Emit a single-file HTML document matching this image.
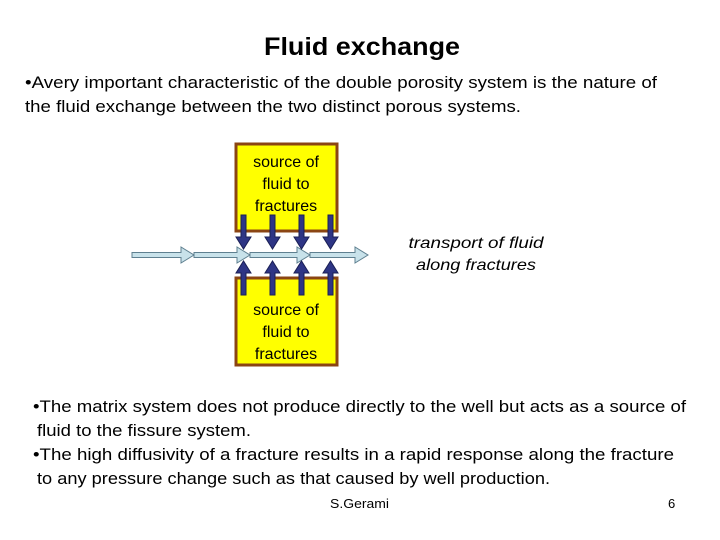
<!DOCTYPE html>
<html><head><meta charset="utf-8"><style>
html,body{margin:0;padding:0;background:#fff;}
svg{display:block;}
text{font-family:"Liberation Sans",sans-serif;fill:#000;}
</style></head><body>
<svg width="720" height="540" viewBox="0 0 720 540" xmlns="http://www.w3.org/2000/svg">
<text x="362" y="55" text-anchor="middle" font-size="25" font-weight="bold" textLength="196" lengthAdjust="spacingAndGlyphs">Fluid exchange</text>
<text x="25" y="88" font-size="17" textLength="632" lengthAdjust="spacingAndGlyphs">•Avery important characteristic of the double porosity system is the nature of</text>
<text x="25" y="112" font-size="17" textLength="496" lengthAdjust="spacingAndGlyphs">the fluid exchange between the two distinct porous systems.</text>

<rect x="236" y="144" width="101" height="87" fill="#ffff00" stroke="#8b4513" stroke-width="3"/>
<rect x="236" y="278" width="101" height="87" fill="#ffff00" stroke="#8b4513" stroke-width="3"/>
<g font-size="16" text-anchor="middle">
<text x="286" y="167">source of</text><text x="286" y="189">fluid to</text><text x="286" y="211">fractures</text>
<text x="286" y="315">source of</text><text x="286" y="337">fluid to</text><text x="286" y="359">fractures</text>
</g>
<g font-size="16" font-style="italic" text-anchor="middle">
<text x="476" y="248" textLength="135" lengthAdjust="spacingAndGlyphs">transport of fluid</text>
<text x="476" y="270" textLength="120" lengthAdjust="spacingAndGlyphs">along fractures</text>
</g>

<g fill="#c8e2ea" stroke="#5f8090" stroke-width="1">
<path d="M132 252.5 H181 V247 L194 255 L181 263 V257.5 H132 Z"/>
<path d="M194 252.5 H237 V247 L250 255 L237 263 V257.5 H194 Z"/>
<path d="M250 252.5 H297 V247 L310 255 L297 263 V257.5 H250 Z"/>
<path d="M310 252.5 H355 V247 L368 255 L355 263 V257.5 H310 Z"/>
</g>
<g fill="#2e3585" stroke="#1a1f55" stroke-width="1">
<path d="M241 215 H246 V237 H251 L243.5 249 L236 237 H241 Z"/>
<path d="M270 215 H275 V237 H280 L272.5 249 L265 237 H270 Z"/>
<path d="M299 215 H304 V237 H309 L301.5 249 L294 237 H299 Z"/>
<path d="M328 215 H333 V237 H338 L330.5 249 L323 237 H328 Z"/>
<path d="M241 295 H246 V273 H251 L243.5 261 L236 273 H241 Z"/>
<path d="M270 295 H275 V273 H280 L272.5 261 L265 273 H270 Z"/>
<path d="M299 295 H304 V273 H309 L301.5 261 L294 273 H299 Z"/>
<path d="M328 295 H333 V273 H338 L330.5 261 L323 273 H328 Z"/>
</g>

<g font-size="17">
<text x="33" y="412" textLength="653" lengthAdjust="spacingAndGlyphs">•The matrix system does not produce directly to the well but acts as a source of</text>
<text x="37" y="436" textLength="214" lengthAdjust="spacingAndGlyphs">fluid to the fissure system.</text>
<text x="33" y="460" textLength="641" lengthAdjust="spacingAndGlyphs">•The high diffusivity of a fracture results in a rapid response along the fracture</text>
<text x="37" y="484" textLength="513" lengthAdjust="spacingAndGlyphs">to any pressure change such as that caused by well production.</text>
</g>
<text x="330" y="508" font-size="13" textLength="59" lengthAdjust="spacingAndGlyphs">S.Gerami</text>
<text x="668" y="508" font-size="13">6</text>
</svg>
</body></html>
